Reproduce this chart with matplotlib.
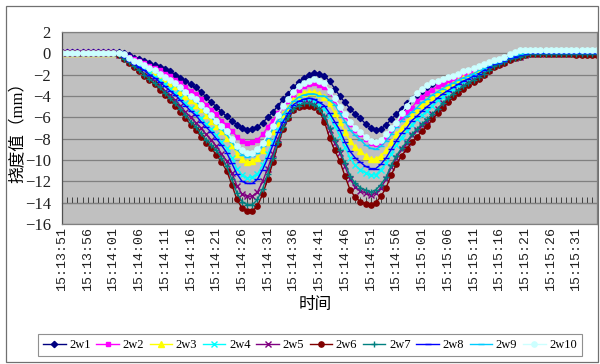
import numpy as np
import matplotlib
matplotlib.use('Agg')
import matplotlib.pyplot as plt
from matplotlib.patches import Rectangle
from matplotlib.font_manager import FontProperties

plt.rcParams['font.family'] = ['Liberation Serif', 'Noto Sans CJK SC']

# ---------------- data ----------------
tick_labels = ['15:13:51', '15:13:56', '15:14:01', '15:14:06', '15:14:11', '15:14:16',
               '15:14:21', '15:14:26', '15:14:31', '15:14:36', '15:14:41', '15:14:46',
               '15:14:51', '15:14:56', '15:15:01', '15:15:06', '15:15:11', '15:15:16',
               '15:15:21', '15:15:26', '15:15:31']
tick_step = 5  # one label every 5 samples (1 sample / s)

names = ['2w1', '2w2', '2w3', '2w4', '2w5', '2w6', '2w7', '2w8', '2w9', '2w10']

s2w1 = [0.1, 0.1, 0.1, 0.1, 0.1, 0.1, 0.1, 0.1, 0.1, 0.1,
        0.1, 0.1, 0.0, -0.2, -0.4, -0.5, -0.7, -0.9, -1.1, -1.3,
        -1.5, -1.7, -2.0, -2.3, -2.6, -2.9, -3.2, -3.6, -4.1, -4.6,
        -5.0, -5.5, -5.9, -6.3, -6.7, -7.0, -7.2, -7.1, -6.9, -6.5,
        -6.0, -5.5, -4.9, -4.3, -3.8, -3.2, -2.7, -2.3, -2.0, -1.8,
        -1.9, -2.1, -2.6, -3.3, -4.0, -4.6, -5.2, -5.7, -6.1, -6.6,
        -7.0, -7.2, -7.1, -6.7, -6.2, -5.7, -5.2, -4.7, -4.3, -3.9,
        -3.5, -3.2, -2.9, -2.7, -2.5, -2.3, -2.2, -2.0, -1.8, -1.7,
        -1.5, -1.3, -1.1, -0.9, -0.7, -0.6, -0.4, -0.2, -0.1, 0.0,
        0.1, 0.1, 0.1, 0.1, 0.1, 0.1, 0.1, 0.1, 0.1, 0.1,
        0.1, 0.1, 0.1, 0.1, 0.1]
s2w2 = [0.1, 0.1, 0.1, 0.1, 0.1, 0.1, 0.1, 0.1, 0.1, 0.1,
        0.1, 0.0, -0.1, -0.3, -0.5, -0.7, -0.9, -1.2, -1.4, -1.6,
        -1.9, -2.1, -2.5, -2.8, -3.2, -3.5, -3.8, -4.3, -4.8, -5.3,
        -5.7, -6.3, -6.7, -7.3, -7.8, -8.2, -8.4, -8.3, -8.1, -7.6,
        -6.9, -6.3, -5.6, -5.0, -4.5, -3.9, -3.4, -3.1, -2.9, -2.8,
        -3.0, -3.2, -3.6, -4.4, -5.2, -5.9, -6.6, -7.2, -7.6, -8.0,
        -8.4, -8.5, -8.3, -7.8, -7.2, -6.6, -6.0, -5.5, -5.1, -4.5,
        -4.1, -3.7, -3.4, -3.1, -2.9, -2.7, -2.5, -2.3, -2.0, -1.9,
        -1.7, -1.5, -1.2, -1.0, -0.8, -0.7, -0.5, -0.3, -0.2, -0.1,
        0.0, 0.0, 0.0, 0.0, 0.0, 0.0, 0.0, 0.0, 0.0, 0.0,
        0.0, 0.0, 0.0, 0.0, 0.0]
s2w3 = [0.0, 0.0, 0.0, 0.0, 0.0, 0.0, 0.0, 0.0, 0.0, 0.0,
        0.0, 0.0, -0.2, -0.5, -0.8, -1.0, -1.3, -1.5, -1.8, -2.1,
        -2.4, -2.8, -3.1, -3.6, -4.0, -4.4, -4.8, -5.2, -5.8, -6.3,
        -6.8, -7.3, -7.9, -8.6, -9.4, -9.9, -10.2, -10.1, -9.8, -9.1,
        -8.3, -7.3, -6.5, -5.7, -5.1, -4.4, -4.0, -3.7, -3.6, -3.6,
        -3.8, -4.1, -4.7, -5.6, -6.4, -7.4, -8.2, -8.8, -9.2, -9.6,
        -9.9, -9.9, -9.6, -9.1, -8.3, -7.6, -7.0, -6.4, -5.8, -5.3,
        -4.8, -4.5, -4.1, -3.7, -3.4, -3.1, -2.9, -2.6, -2.3, -2.2,
        -1.9, -1.7, -1.4, -1.2, -0.9, -0.8, -0.6, -0.3, -0.2, -0.1,
        0.0, 0.0, 0.0, 0.0, 0.0, 0.0, 0.0, 0.0, 0.0, 0.0,
        0.0, 0.0, 0.0, 0.0, 0.0]
s2w4 = [0.0, 0.0, 0.0, 0.0, 0.0, 0.0, 0.0, 0.0, 0.0, 0.0,
        0.0, -0.1, -0.3, -0.6, -0.9, -1.2, -1.5, -1.8, -2.2, -2.5,
        -2.9, -3.3, -3.7, -4.2, -4.7, -5.1, -5.6, -6.1, -6.6, -7.1,
        -7.7, -8.3, -8.9, -9.8, -10.8, -11.4, -11.7, -11.6, -11.3, -10.5,
        -9.4, -8.3, -7.2, -6.3, -5.6, -5.0, -4.6, -4.5, -4.4, -4.5,
        -4.8, -5.2, -5.9, -6.8, -7.7, -8.8, -9.8, -10.5, -10.9, -11.2,
        -11.4, -11.4, -10.9, -10.3, -9.4, -8.6, -7.9, -7.3, -6.7, -6.2,
        -5.8, -5.4, -4.9, -4.4, -4.1, -3.7, -3.3, -3.0, -2.7, -2.5,
        -2.2, -2.0, -1.6, -1.4, -1.1, -0.9, -0.7, -0.4, -0.3, -0.2,
        -0.1, 0.0, 0.0, 0.0, 0.0, 0.0, 0.0, 0.0, 0.0, 0.0,
        0.0, 0.0, 0.0, 0.0, 0.0]
s2w5 = [0.0, 0.0, 0.0, 0.0, 0.0, 0.0, 0.0, 0.0, 0.0, 0.0,
        0.0, -0.2, -0.4, -0.8, -1.1, -1.5, -1.9, -2.2, -2.6, -3.0,
        -3.5, -3.9, -4.4, -4.9, -5.5, -6.0, -6.5, -7.0, -7.6, -8.1,
        -8.7, -9.4, -10.1, -11.2, -12.4, -13.2, -13.4, -13.4, -13.0, -12.0,
        -10.8, -9.4, -8.0, -6.8, -6.0, -5.2, -4.9, -4.7, -4.7, -4.8,
        -5.2, -6.0, -7.2, -8.4, -9.3, -10.6, -11.8, -12.5, -12.9, -13.1,
        -13.3, -13.1, -12.6, -11.8, -10.7, -9.8, -9.0, -8.4, -7.7, -7.2,
        -6.7, -6.3, -5.7, -5.2, -4.7, -4.3, -3.8, -3.5, -3.1, -2.8,
        -2.5, -2.2, -1.9, -1.6, -1.2, -1.0, -0.8, -0.5, -0.4, -0.3,
        -0.2, -0.1, -0.1, -0.1, -0.1, -0.1, -0.1, -0.1, -0.1, -0.1,
        -0.1, -0.1, -0.1, -0.1, -0.1]
s2w6 = [0.0, 0.0, 0.0, 0.0, 0.0, 0.0, 0.0, 0.0, 0.0, 0.0,
        0.0, -0.2, -0.5, -0.9, -1.3, -1.7, -2.1, -2.5, -2.9, -3.4,
        -3.9, -4.4, -4.9, -5.5, -6.1, -6.7, -7.2, -7.8, -8.4, -8.9,
        -9.5, -10.2, -11.0, -12.3, -13.7, -14.5, -14.8, -14.8, -14.3, -13.2,
        -11.8, -10.2, -8.5, -7.1, -6.1, -5.3, -5.0, -4.9, -4.9, -5.0,
        -5.4, -6.4, -7.9, -9.1, -10.1, -11.5, -12.8, -13.5, -13.9, -14.1,
        -14.2, -14.0, -13.4, -12.6, -11.4, -10.4, -9.6, -9.0, -8.3, -7.8,
        -7.3, -6.8, -6.2, -5.6, -5.1, -4.6, -4.1, -3.7, -3.3, -3.0,
        -2.7, -2.4, -2.0, -1.7, -1.3, -1.1, -0.9, -0.6, -0.4, -0.3,
        -0.2, -0.1, -0.1, -0.1, -0.1, -0.1, -0.1, -0.1, -0.1, -0.1,
        -0.2, -0.2, -0.2, -0.2, -0.2]
s2w7 = [0.0, 0.0, 0.0, 0.0, 0.0, 0.0, 0.0, 0.0, 0.0, 0.0,
        0.0, -0.2, -0.5, -0.8, -1.2, -1.6, -2.0, -2.4, -2.8, -3.2,
        -3.7, -4.2, -4.7, -5.2, -5.8, -6.4, -6.9, -7.5, -8.1, -8.6,
        -9.1, -9.8, -10.6, -11.8, -13.1, -13.9, -14.2, -14.2, -13.7, -12.7,
        -11.3, -9.8, -8.3, -6.9, -6.0, -5.2, -4.9, -4.7, -4.7, -4.8,
        -5.2, -5.9, -7.0, -8.1, -9.1, -10.3, -11.5, -12.2, -12.6, -12.8,
        -13.0, -12.8, -12.3, -11.6, -10.5, -9.6, -8.9, -8.3, -7.6, -7.1,
        -6.6, -6.2, -5.7, -5.2, -4.7, -4.2, -3.8, -3.4, -3.1, -2.8,
        -2.5, -2.2, -1.9, -1.6, -1.2, -1.0, -0.8, -0.5, -0.4, -0.3,
        -0.2, -0.1, -0.1, -0.1, -0.1, -0.1, -0.1, -0.1, -0.1, -0.1,
        -0.1, -0.1, -0.1, -0.1, -0.1]
s2w8 = [0.0, 0.0, 0.0, 0.0, 0.0, 0.0, 0.0, 0.0, 0.0, 0.0,
        0.0, -0.1, -0.3, -0.7, -1.0, -1.3, -1.6, -2.0, -2.3, -2.7,
        -3.1, -3.5, -3.9, -4.4, -4.9, -5.4, -5.8, -6.4, -6.9, -7.4,
        -8.0, -8.6, -9.3, -10.3, -11.3, -12.0, -12.2, -12.2, -11.8, -10.9,
        -9.8, -8.6, -7.4, -6.4, -5.6, -4.8, -4.5, -4.3, -4.2, -4.3,
        -4.6, -4.9, -5.6, -6.4, -7.2, -8.3, -9.2, -9.8, -10.2, -10.6,
        -10.8, -10.8, -10.4, -9.8, -9.0, -8.2, -7.5, -7.0, -6.3, -5.9,
        -5.4, -5.0, -4.6, -4.2, -3.8, -3.5, -3.2, -2.9, -2.6, -2.4,
        -2.1, -1.9, -1.6, -1.3, -1.0, -0.9, -0.7, -0.4, -0.3, -0.2,
        -0.1, 0.0, 0.0, 0.0, 0.0, 0.0, 0.0, 0.0, 0.0, 0.0,
        0.0, 0.0, 0.0, 0.0, 0.0]
s2w9 = [0.0, 0.0, 0.0, 0.0, 0.0, 0.0, 0.0, 0.0, 0.0, 0.0,
        0.0, 0.0, -0.2, -0.4, -0.7, -0.9, -1.2, -1.4, -1.7, -2.0,
        -2.3, -2.6, -3.0, -3.4, -3.8, -4.2, -4.5, -5.0, -5.5, -6.0,
        -6.5, -7.1, -7.6, -8.3, -9.0, -9.5, -9.7, -9.6, -9.3, -8.7,
        -7.9, -7.1, -6.3, -5.7, -5.1, -4.5, -4.1, -3.9, -3.8, -3.8,
        -4.0, -4.0, -4.4, -4.8, -5.6, -6.4, -7.2, -7.7, -8.1, -8.6,
        -8.9, -9.0, -8.7, -8.2, -7.6, -6.9, -6.3, -5.9, -5.5, -5.1,
        -4.6, -4.3, -3.9, -3.6, -3.3, -3.0, -2.8, -2.5, -2.3, -2.1,
        -1.9, -1.6, -1.4, -1.1, -0.9, -0.8, -0.6, -0.3, -0.2, -0.1,
        0.0, 0.1, 0.1, 0.1, 0.1, 0.1, 0.1, 0.1, 0.1, 0.1,
        0.1, 0.1, 0.1, 0.1, 0.1]
s2w10 = [0.0, 0.0, 0.0, 0.0, 0.0, 0.0, 0.0, 0.0, 0.0, 0.0,
         0.0, 0.0, -0.1, -0.4, -0.7, -0.8, -1.1, -1.4, -1.6, -1.9,
         -2.2, -2.5, -2.8, -3.2, -3.6, -4.0, -4.3, -4.8, -5.3, -5.8,
         -6.3, -6.8, -7.3, -8.0, -8.7, -9.1, -9.3, -9.3, -9.0, -8.4,
         -7.6, -6.8, -5.8, -4.9, -4.3, -3.6, -3.1, -2.8, -2.6, -2.4,
         -2.6, -2.8, -3.5, -4.2, -5.0, -5.7, -6.4, -7.0, -7.4, -7.8,
         -8.2, -8.3, -8.1, -7.6, -7.0, -6.5, -5.6, -4.9, -4.3, -3.7,
         -3.3, -3.0, -2.7, -2.6, -2.4, -2.2, -2.1, -1.9, -1.7, -1.6,
         -1.4, -1.2, -1.0, -0.8, -0.6, -0.5, -0.3, -0.1, 0.1, 0.3,
         0.3, 0.3, 0.3, 0.3, 0.3, 0.3, 0.3, 0.3, 0.3, 0.3,
         0.3, 0.3, 0.3, 0.3, 0.3]

series = [s2w1, s2w2, s2w3, s2w4, s2w5, s2w6, s2w7, s2w8, s2w9, s2w10]

# excel-like series styles: colour, marker, marker size
styles = [('#000080', 'D', 3.2),
          ('#FF00FF', 's', 3.5),
          ('#FFFF00', '^', 4.0),
          ('#00FFFF', 'x', 4.0),
          ('#800080', 'x', 4.0),
          ('#800000', 'o', 3.8),
          ('#008080', '+', 4.5),
          ('#0000FF', '_', 4.0),
          ('#00CCFF', '_', 5.0),
          ('#CCFFFF', 'o', 3.8)]

# ---------------- figure ----------------
W, H = 600, 364
fig = plt.figure(figsize=(W / 100, H / 100), dpi=100)
ax = fig.add_axes([62 / W, 140 / H, 535 / W, 192 / H])
ax.set_facecolor('#C0C0C0')

n = len(s2w1)
x = np.arange(n)
for name, ys, (c, m, ms) in zip(names, series, styles):
    ax.plot(x[:len(ys)], ys, color=c, lw=1.0, marker=m, ms=ms,
            mfc=c, mec=c, mew=1.0, label=name)

ax.set_xlim(0, n - 1)
ax.set_ylim(-16, 2)
ax.set_yticks(np.arange(-16, 3, 2))
ax.yaxis.grid(True, color='#808080', lw=0.9)
ax.set_axisbelow(True)
for sp in ax.spines.values():
    sp.set_color('#808080')
    sp.set_linewidth(0.9)
ax.spines['left'].set_color('#505050')

mono = FontProperties(family=['Liberation Mono', 'DejaVu Sans Mono'], size=9.5)
tick_pos = np.arange(len(tick_labels)) * tick_step
ax.set_xticks(tick_pos)
ax.set_xticklabels(tick_labels, rotation=90, fontproperties=mono, color='#202020')
ax.tick_params(axis='x', length=0, pad=2)
ax.tick_params(axis='y', length=0, pad=8, labelsize=12, labelcolor='#202020')

# category axis crossing at -14, one tick per sample
sec = ax.secondary_xaxis((-14 - (-16)) / 18)
sec.set_xticks(x)
sec.set_xticklabels([])
sec.tick_params(direction='in', length=4, width=0.7, color='#404040')
sec.spines['bottom'].set_color('#404040')

ax.set_xlabel('时间', fontsize=12)
ax.xaxis.set_label_coords((315 - 62) / 535, (224 - 297) / 192)
ax.set_ylabel('挠度值（mm）', fontsize=12)
ax.yaxis.set_label_coords(-0.068, 0.5)

leg = fig.legend(loc='center', ncol=10, mode='expand',
                 bbox_to_anchor=(38 / W, (364 - 357) / H, 544 / W, 24 / H),
                 fontsize=9, frameon=True, fancybox=False, framealpha=1,
                 edgecolor='#909090', handlelength=1.8, handletextpad=0.3,
                 borderaxespad=0.0, borderpad=0.4)
leg.get_frame().set_linewidth(0.8)

# outer chart border
fig.add_artist(Rectangle((6 / W, 2 / H), 592 / W, 356 / H, transform=fig.transFigure,
                         fill=False, edgecolor='#707070', lw=0.9))

fig.savefig('out.png', dpi=100)
